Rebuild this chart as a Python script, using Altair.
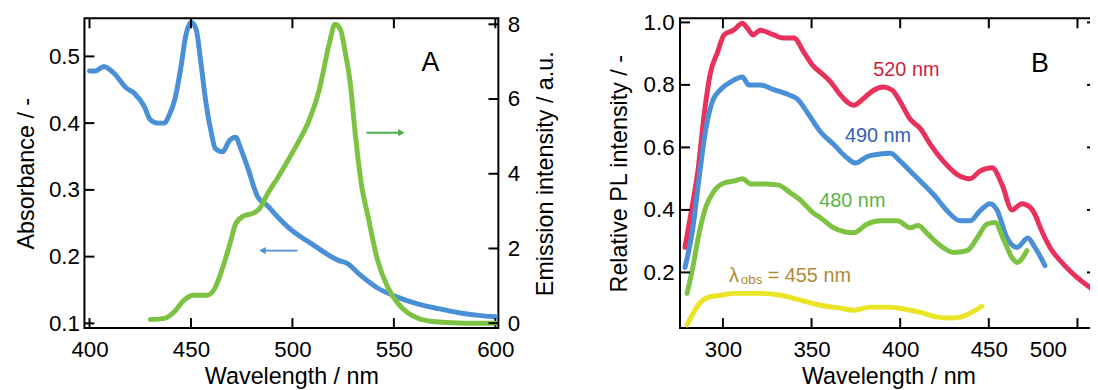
import altair as alt
import pandas as pd

FONT = "Liberation Sans"

# ---------------- Panel A ----------------
abs_wl = [400, 403, 407, 412, 418, 422, 427, 430, 434, 437, 439, 442, 445, 447.5, 450, 452.5,
          455, 457, 460, 462, 465.5, 469, 472, 474.5, 478, 483, 487.5, 492.5, 497.5, 503, 508,
          513, 518, 523, 527, 532.5, 542, 552, 562, 572, 582, 591.6, 600]
abs_val = [0.478, 0.478, 0.485, 0.475, 0.453, 0.445, 0.425, 0.405, 0.400, 0.400, 0.410, 0.435,
           0.483, 0.532, 0.551, 0.541, 0.488, 0.439, 0.386, 0.362, 0.357, 0.374, 0.379, 0.362,
           0.333, 0.289, 0.277, 0.260, 0.245, 0.232, 0.222, 0.212, 0.202, 0.194, 0.190, 0.175,
           0.153, 0.139, 0.129, 0.122, 0.116, 0.112, 0.110]

em_wl = [430, 437, 441.7, 446.6, 451.5, 458, 462, 465.7, 469.6, 472, 476, 481, 484, 487.6,
         492.6, 497.5, 503, 508, 513, 518, 521, 523.6, 526, 528.6, 531, 534, 537.4, 542, 547,
         552, 557, 562, 572, 585, 600]
em_val = [0.10, 0.13, 0.30, 0.62, 0.75, 0.75, 0.96, 1.50, 2.20, 2.66, 2.87, 2.95, 3.08, 3.45,
          3.88, 4.33, 4.86, 5.40, 6.20, 7.44, 8.00, 7.87, 7.26, 6.38, 5.05, 3.72, 2.82, 1.68,
          0.96, 0.53, 0.27, 0.13, 0.03, 0.00, 0.00]

a_xticks = [400, 450, 500, 550, 600]
a_yleft_ticks = [0.1, 0.2, 0.3, 0.4, 0.5]
a_yright_ticks = [0, 2, 4, 6, 8]

blue_arrow_x = [485.3, 502.5]
blue_arrow_y = 0.209
green_arrow_x = [536.5, 553.7]
green_arrow_y = 5.1
panel_a_label = {"x": 568, "y": 0.49, "t": "A"}

# ---------------- Panel B ----------------
r_wl = [278.6, 282, 286, 289.5, 293, 297, 300.6, 306, 311, 314, 317, 321, 328.7, 334, 340,
        345.6, 351, 355, 360.7, 366, 373.7, 379, 385, 390.6, 395.6, 400, 405.7, 411.4, 417,
        424.3, 432, 439.5, 445, 451.9, 457.5, 463.1, 468.7, 473, 476.5, 478.9, 484.5, 491.8,
        499.7, 507, 511]
r_val = [0.28, 0.39, 0.53, 0.71, 0.84, 0.905, 0.96, 0.975, 0.997, 0.98, 0.96, 0.975, 0.96,
         0.95, 0.95, 0.905, 0.86, 0.84, 0.81, 0.77, 0.735, 0.755, 0.783, 0.793, 0.783, 0.746,
         0.69, 0.66, 0.61, 0.556, 0.514, 0.50, 0.524, 0.535, 0.48, 0.40, 0.42, 0.41, 0.38,
         0.345, 0.28, 0.228, 0.184, 0.152, 0.133]

b_wl = [278.6, 283, 286.5, 290.4, 294, 299, 304.5, 311, 314.6, 321, 328.7, 336.5, 342,
        347.8, 355, 362.4, 370.3, 374.8, 381.5, 387.7, 394.5, 400, 405.7, 411.4, 418.7,
        426.5, 433.9, 439.5, 445, 450.7, 454.6, 460.3, 465.9, 472, 476, 481.7]
b_val = [0.216, 0.34, 0.50, 0.66, 0.746, 0.787, 0.81, 0.825, 0.80, 0.80, 0.785, 0.77,
         0.755, 0.71, 0.65, 0.61, 0.565, 0.55, 0.571, 0.578, 0.581, 0.556, 0.524, 0.492,
         0.45, 0.397, 0.365, 0.365, 0.397, 0.42, 0.40, 0.31, 0.28, 0.31, 0.28, 0.222]

g_wl = [279.8, 283, 286.5, 290.4, 295, 300.6, 306, 311, 315.7, 323, 331, 338, 344, 351,
        355, 362.4, 373.7, 381.5, 388.9, 398.4, 405.7, 410.2, 415.3, 422.6, 430, 437.8,
        443.4, 449, 453.5, 458, 463.1, 465.9, 471.5]
g_val = [0.133, 0.216, 0.324, 0.41, 0.46, 0.486, 0.492, 0.50, 0.483, 0.483, 0.48, 0.455,
         0.43, 0.39, 0.375, 0.343, 0.327, 0.355, 0.365, 0.365, 0.343, 0.35, 0.324, 0.286,
         0.264, 0.27, 0.31, 0.355, 0.36, 0.31, 0.247, 0.232, 0.27]

y_wl = [279.8, 286, 291.6, 299, 306, 321, 332.6, 344, 355, 366, 374, 383, 393, 402, 411,
        421, 428, 434, 440.6, 446]
y_val = [0.032, 0.095, 0.12, 0.127, 0.133, 0.133, 0.127, 0.111, 0.095, 0.086, 0.079, 0.089,
         0.089, 0.083, 0.073, 0.057, 0.054, 0.057, 0.073, 0.092]

b_series = ["520 nm", "490 nm", "480 nm", "455 nm"]
b_line_colors = ["#e8325c", "#4a90d6", "#7cc243", "#e9e426"]
b_text_colors = ["#cf1f3f", "#2f62b3", "#58b545"]
b_label_x = [403.5, 387.5, 373.0]
b_label_y = [0.848, 0.635, 0.429]

b_xticks = [300, 350, 400, 450, 500]
b_yticks = [0.2, 0.4, 0.6, 0.8, 1.0]
lam_x = 303.4
lam_y = 0.19
panel_b_label = {"x": 478.8, "y": 0.867, "t": "B"}

# ---------------- layout constants ----------------
WA, HA = 417, 312
WB, HB = 420, 312
TICK = 10
LW = 5
LABEL_FS = 22.5
TITLE_FS = 23.5

xA = alt.Scale(domain=[397.5, 601.5], nice=False, zero=False)
yAL = alt.Scale(domain=[0.093, 0.557], nice=False, zero=False)
yAR = alt.Scale(domain=[-0.13, 8.16], nice=False, zero=False)
xB = alt.Scale(domain=[275.8, 511.0], nice=False, zero=False)
yB = alt.Scale(domain=[0.022, 1.013], nice=False, zero=False)


def axis(title, values, fmt, orient=None, **kw):
    args = dict(title=title, values=values, format=fmt, ticks=False, tickSize=0, domain=False,
                grid=False, labelFontSize=LABEL_FS, titleFontSize=TITLE_FS, labelColor="black",
                titleColor="black", titleFontWeight="normal", labelFont=FONT, titleFont=FONT)
    if orient:
        args["orient"] = orient
    args.update(kw)
    return alt.Axis(**args)


def yticks(values, scale, W, side):
    df = pd.DataFrame({"v": values})
    x1, x2 = (0, TICK) if side == "left" else (W - TICK, W)
    return alt.Chart(df).mark_rule(color="black", strokeWidth=2).encode(
        y=alt.Y("v:Q", scale=scale), x=alt.value(x1), x2=alt.value(x2))


def xticks(values, scale, H, side):
    df = pd.DataFrame({"v": values})
    y1, y2 = (0, TICK) if side == "top" else (H - TICK, H)
    return alt.Chart(df).mark_rule(color="black", strokeWidth=2).encode(
        x=alt.X("v:Q", scale=scale), y=alt.value(y1), y2=alt.value(y2))


# ---- Panel A ----
dfa = pd.DataFrame({"wl": abs_wl, "v": abs_val})
dfe = pd.DataFrame({"wl": em_wl, "v": em_val})

blue_line = alt.Chart(dfa).mark_line(color="#4a90d6", strokeWidth=LW, strokeCap="round",
                                      strokeJoin="round", interpolate="monotone").encode(
    x=alt.X("wl:Q", scale=xA, axis=axis("Wavelength / nm", a_xticks, "d", labelPadding=10.5,
                                         titlePadding=4)),
    y=alt.Y("v:Q", scale=yAL, axis=axis("Absorbance / -", a_yleft_ticks, ".1f",
                                        labelPadding=5, titlePadding=10)))

ba_df = pd.DataFrame({"x": [blue_arrow_x[0]], "x2": [blue_arrow_x[1]], "y": [blue_arrow_y]})
blue_arrow = alt.Chart(ba_df).mark_rule(color="#4a90d6", strokeWidth=2).encode(
    x=alt.X("x:Q", scale=xA), x2="x2:Q", y=alt.Y("y:Q", scale=yAL))
blue_head = alt.Chart(ba_df).mark_point(shape="triangle-left", filled=True, size=55,
                                        color="#4a90d6", opacity=1).encode(
    x=alt.X("x:Q", scale=xA), y=alt.Y("y:Q", scale=yAL))

a_lab_df = pd.DataFrame([panel_a_label])
a_text = alt.Chart(a_lab_df).mark_text(fontSize=27, font=FONT, color="black").encode(
    x=alt.X("x:Q", scale=xA), y=alt.Y("y:Q", scale=yAL), text="t:N")

left_layer = alt.layer(
    blue_line, blue_arrow, blue_head, a_text,
    yticks(a_yleft_ticks, yAL, WA, "left"),
    xticks(a_xticks, xA, HA, "top"),
    xticks(a_xticks, xA, HA, "bottom"),
)

green_line = alt.Chart(dfe).mark_line(color="#7cc243", strokeWidth=LW, strokeCap="round",
                                       strokeJoin="round", interpolate="monotone").encode(
    x=alt.X("wl:Q", scale=xA),
    y=alt.Y("v:Q", scale=yAR, axis=axis("Emission intensity / a.u.", a_yright_ticks, "d",
                                        orient="right", labelPadding=9, titlePadding=14,
                                        titleAngle=270, titleBaseline="top")))
ga_df = pd.DataFrame({"x": [green_arrow_x[0]], "x2": [green_arrow_x[1]], "y": [green_arrow_y]})
green_arrow = alt.Chart(ga_df).mark_rule(color="#4bb04a", strokeWidth=2).encode(
    x=alt.X("x:Q", scale=xA), x2="x2:Q", y=alt.Y("y:Q", scale=yAR))
green_head = alt.Chart(ga_df).mark_point(shape="triangle-right", filled=True, size=55,
                                         color="#4bb04a", opacity=1).encode(
    x=alt.X("x2:Q", scale=xA), y=alt.Y("y:Q", scale=yAR))

right_layer = alt.layer(green_line, green_arrow, green_head,
                        yticks(a_yright_ticks, yAR, WA, "right"))

panel_a = alt.layer(left_layer, right_layer).resolve_scale(y="independent").properties(
    width=WA, height=HA)

# ---- Panel B ----
rows = []
for name, wl, val in [(b_series[0], r_wl, r_val), (b_series[1], b_wl, b_val),
                      (b_series[2], g_wl, g_val), (b_series[3], y_wl, y_val)]:
    for w, v in zip(wl, val):
        rows.append({"series": name, "wl": w, "v": v})
dfb = pd.DataFrame(rows)

b_lines = alt.Chart(dfb).mark_line(strokeWidth=LW, strokeCap="round", strokeJoin="round",
                                   interpolate="monotone").encode(
    x=alt.X("wl:Q", scale=xB, axis=axis("Wavelength / nm", b_xticks, "d", labelPadding=10.5,
                                         titlePadding=4, labelFlush=25,
                                         labelFlushOffset=-11)),
    y=alt.Y("v:Q", scale=yB, axis=axis("Relative PL intensity / -", b_yticks, ".1f",
                                       labelPadding=6, titlePadding=12)),
    color=alt.Color("series:N", scale=alt.Scale(domain=b_series, range=b_line_colors),
                    legend=None),
)

lab_df = pd.DataFrame({"x": b_label_x, "y": b_label_y, "t": b_series[:3]})
b_labels = alt.Chart(lab_df).mark_text(fontSize=20, font=FONT).encode(
    x=alt.X("x:Q", scale=xB), y=alt.Y("y:Q", scale=yB), text="t:N",
    color=alt.Color("t:N", scale=alt.Scale(domain=b_series[:3], range=b_text_colors),
                    legend=None))

lam_df = pd.DataFrame({"x": [lam_x], "y": [lam_y], "a": ["λ"], "b": ["obs"],
                       "c": ["= 455 nm"]})
LAMC = "#b08a35"
lam1 = alt.Chart(lam_df).mark_text(fontSize=20, font=FONT, color=LAMC, align="left").encode(
    x=alt.X("x:Q", scale=xB), y=alt.Y("y:Q", scale=yB), text="a:N")
lam2 = alt.Chart(lam_df).mark_text(fontSize=13.5, font=FONT, color=LAMC, align="left",
                                   dx=12, dy=5).encode(
    x=alt.X("x:Q", scale=xB), y=alt.Y("y:Q", scale=yB), text="b:N")
lam3 = alt.Chart(lam_df).mark_text(fontSize=20, font=FONT, color=LAMC, align="left",
                                   dx=39).encode(
    x=alt.X("x:Q", scale=xB), y=alt.Y("y:Q", scale=yB), text="c:N")

b_lab_df = pd.DataFrame([panel_b_label])
b_text = alt.Chart(b_lab_df).mark_text(fontSize=27, font=FONT, color="black").encode(
    x=alt.X("x:Q", scale=xB), y=alt.Y("y:Q", scale=yB), text="t:N")

panel_b = alt.layer(
    b_lines, b_labels, lam1, lam2, lam3, b_text,
    yticks(b_yticks, yB, WB, "left"),
    yticks(b_yticks, yB, WB, "right"),
    xticks(b_xticks, xB, HB, "top"),
    xticks(b_xticks, xB, HB, "bottom"),
).resolve_scale(color="independent").properties(width=WB, height=HB)

chart = alt.hconcat(panel_a, panel_b, spacing=47).properties(
    padding={"left": 5, "top": 1, "right": -11, "bottom": 0}
).configure_view(stroke="black", strokeWidth=2)

chart.save("out.html", embed_options={"renderer": "svg", "actions": False})
